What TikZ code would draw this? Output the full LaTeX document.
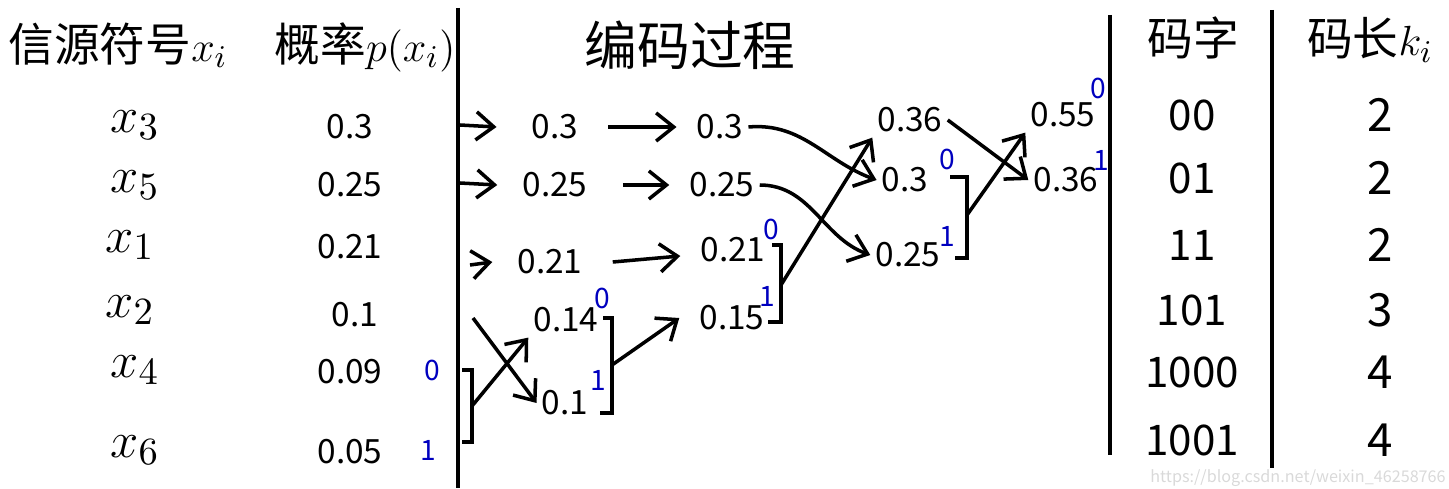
\documentclass[tikz,border=0pt]{standalone}
\usepackage{fontspec}
\setmainfont{Noto Sans CJK SC}
\usetikzlibrary{arrows.meta}

\begin{document}
\begin{tikzpicture}[x=0.01cm, y=-0.01cm, line width=1pt,
    hd/.style={font=\fontsize{13}{13}\selectfont, inner sep=0pt},
    val/.style={font=\fontsize{9.5}{11}\selectfont, inner sep=1pt},
    sym/.style={font=\fontsize{15}{15}\selectfont, inner sep=1pt},
    bit/.style={text=blue!75!black, font=\fontsize{8}{8}\selectfont, inner sep=0pt},
    arr/.style={-{Straight Barb[length=5pt,width=8pt]}}]
    \useasboundingbox (0,0) rectangle (1449,488);
    \node[hd] (hsrc) at (118,45) {信源符号$x_i$};
    \node[hd] (hprob) at (365,47) {概率$p(x_i)$};
    \node[hd, font=\fontsize{15}{15}\selectfont] (hproc) at (690,45) {编码过程};
    \node[hd] (hcode) at (1193,38) {码字};
    \node[hd] (hlen) at (1370,40) {码长$k_i$};
    \draw (458,8) -- (458,488);
    \draw (1110,15) -- (1110,455);
    \draw (1272,10) -- (1272,468);
    \node[sym] (x3) at (135,125) {$x_3$};
    \node[sym] (x5) at (135,185) {$x_5$};
    \node[sym] (x1) at (130,245) {$x_1$};
    \node[sym] (x2) at (130,310) {$x_2$};
    \node[sym] (x4) at (135,370) {$x_4$};
    \node[sym] (x6) at (135,450) {$x_6$};
    \node[val] (p3) at (350,127) {0.3};
    \node[val] (p5) at (350,185) {0.25};
    \node[val] (p1) at (350,247) {0.21};
    \node[val] (p2) at (355,315) {0.1};
    \node[val] (p4) at (350,372) {0.09};
    \node[val] (p6) at (350,452) {0.05};
    \node[bit] (bp4) at (432,370) {0};
    \node[bit] (bp6) at (428,450) {1};
    % step 1
    \node[val] (a3) at (555,127) {0.3};
    \node[val] (a25) at (555,185) {0.25};
    \node[val] (a21) at (550,262) {0.21};
    \node[val] (a14) at (566,320) {0.14};
    \node[val] (a10) at (565,403) {0.1};
    \node[bit] (ba14) at (602,298) {0};
    \node[bit] (ba10) at (598,380) {1};
    % step 2
    \node[val] (b3) at (720,127) {0.3};
    \node[val] (b25) at (722,185) {0.25};
    \node[val] (b21) at (733,250) {0.21};
    \node[val] (b15) at (732,318) {0.15};
    \node[bit] (bb21) at (771,229) {0};
    \node[bit] (bb15) at (767,296) {1};
    % step 3
    \node[val] (c36) at (910,120) {0.36};
    \node[val] (c3) at (905,180) {0.3};
    \node[val] (c25) at (908,255) {0.25};
    \node[bit] (bc3) at (947,159) {0};
    \node[bit] (bc25) at (947,236) {1};
    % step 4
    \node[val] (d55) at (1063,115) {0.55};
    \node[val] (d36) at (1066,180) {0.36};
    \node[bit] (bd55) at (1098,88) {0};
    \node[bit] (bd36) at (1101,160) {1};
    % brackets
    \draw (462,370) -| (472,442) -- (462,442);
    \coordinate (m1) at (472,406);
    \draw (603,318) -| (612,413) -- (600,413);
    \coordinate (m2) at (612,365);
    \draw (772,245) -| (781,322) -- (768,322);
    \coordinate (m3) at (781,285);
    \draw (950,177) -| (967,258) -- (955,258);
    \coordinate (m4) at (967,215);
    \coordinate (l3) at (460,125);
    \coordinate (l5) at (460,183);
    \coordinate (l1) at (470,265);
    \coordinate (l2) at (473,318);
    % arrows
    \draw[arr] (l3) -- ([xshift=-0.3cm]a3.west);
    \draw[arr] (l5) -- ([xshift=-0.2cm]a25.west);
    \draw[arr] (l1) -- ([xshift=-0.2cm]a21.west);
    \draw[arr] (m1) -- (a14.south west);
    \draw[arr] (l2) -- (a10.west);
    \draw[arr] (a3.east) ++(0.25cm,0) -- ([xshift=-0.15cm]b3.west);
    \draw[arr] (a25.east) ++(0.3cm,0) -- ([xshift=-0.15cm]b25.west);
    \draw[arr] (a21.east) ++(0.25cm,0) -- ([xshift=-0.15cm,yshift=-0.06cm]b21.west);
    \draw[arr] (m2) -- ([xshift=-0.15cm]b15.west);
    \draw[arr] (m3) -- (c36.south west);
    \draw[arr] (b3.east) to[out=5,in=160] (c3.west);
    \draw[arr] (b25.east) to[out=0,in=160] (c25.west);
    \draw[arr] (c36.east) -- (d36.west);
    \draw[arr] (m4) -- (d55.south west);
    % code words and lengths
    \foreach \n/\cw/\kl/\y in {1/00/2/115, 2/01/2/178, 3/11/2/245, 4/101/3/310, 5/1000/4/372, 6/1001/4/440}
    {
        \node[val, font=\fontsize{12}{12}\selectfont] (cw\n) at (1192,\y) {\cw};
        \node[val, font=\fontsize{13}{13}\selectfont] (kl\n) at (1380,\y) {\kl};
    }
    \node[text=black!15, font=\fontsize{4.6}{5}\selectfont, inner sep=0pt] (wm) at (1298,478) {https://blog.csdn.net/weixin\_46258766};
\end{tikzpicture}
\end{document}
